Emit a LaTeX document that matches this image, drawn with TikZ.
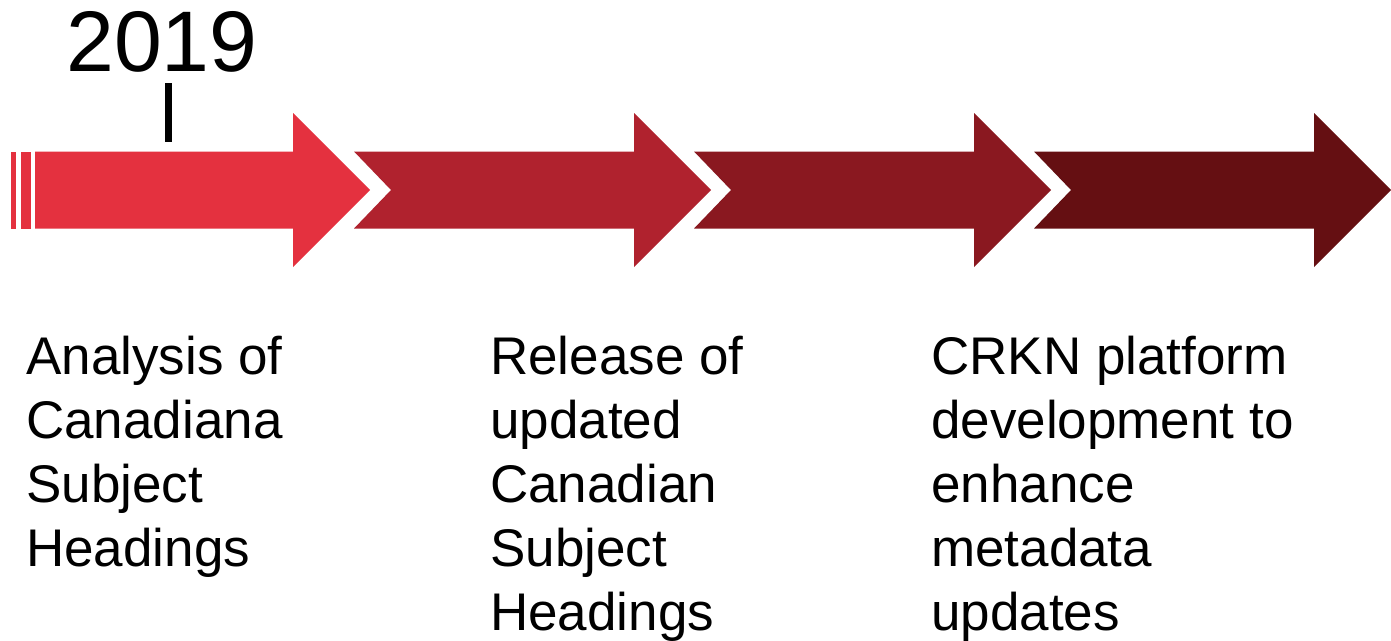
\documentclass[tikz,border=0pt]{standalone}
\usepackage{fontspec}
\setmainfont{Liberation Sans}

\definecolor{phaseone}{HTML}{E4313F}
\definecolor{phasetwo}{HTML}{B0222E}
\definecolor{phasethree}{HTML}{8A1820}
\definecolor{phasefour}{HTML}{650F12}

\begin{document}
\begin{tikzpicture}[x = 1pt, y = -1pt,
		phase text/.style = {anchor = base west,
							 inner sep = 0pt,
							 align = left,
							 font = \fontsize{53}{64}\selectfont}]

	\useasboundingbox (0,0) rectangle (1391,640);

	\fill[phaseone] (11,151.5) rectangle (16,228.5);
	\fill[phaseone] (21,151.5) rectangle (31,228.5);
	\fill[phaseone] (35,151.5) -- (293,151.5) -- (293,113) -- (370,190) --
			(293,267) -- (293,228.5) -- (35,228.5) -- cycle;

	\fill[phasetwo] (354,151.5) -- (634,151.5) -- (634,113) -- (711,190) --
			(634,267) -- (634,228.5) -- (354,228.5) -- (391,190) -- cycle;

	\fill[phasethree] (694,151.5) -- (974,151.5) -- (974,113) -- (1051,190) --
			(974,267) -- (974,228.5) -- (694,228.5) -- (731,190) -- cycle;

	\fill[phasefour] (1034,151.5) -- (1314,151.5) -- (1314,113) -- (1391,190) --
			(1314,267) -- (1314,228.5) -- (1034,228.5) -- (1071,190) -- cycle;

	\draw (162,71) node[anchor = base,
					 inner sep = 0pt,
					 font = \fontsize{86}{90}\selectfont] (year) {2019};

	\draw[line width = 7pt] (168,83) -- (168,142);

	\draw (26,566) node[phase text] (analysis)
			{Analysis of\\Canadiana\\Subject\\Headings};

	\draw (490,630) node[phase text] (release)
			{Release of\\updated\\Canadian\\Subject\\Headings};

	\draw (931,630) node[phase text] (platform)
			{CRKN platform\\development to\\enhance\\metadata\\updates};
\end{tikzpicture}
\end{document}
